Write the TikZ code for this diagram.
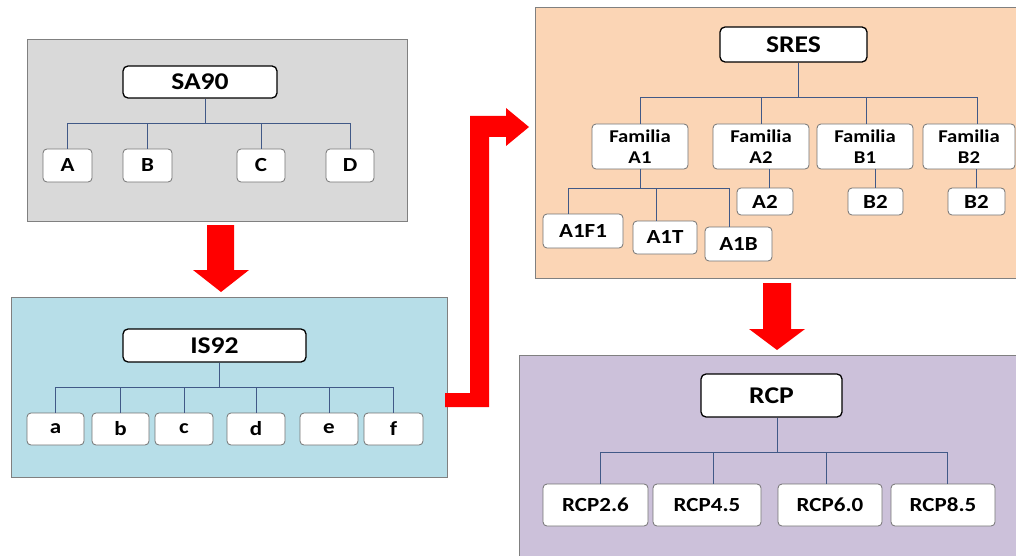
\documentclass[tikz,border=0pt]{standalone}
\usepackage{fontspec}
\setmainfont{Carlito}[FakeStretch=1.15]
\begin{document}
\begin{tikzpicture}[x=1pt,y=-1pt,
  panel/.style={draw=black!50,line width=1pt},
  head/.style={draw=black,line width=1.3pt,rounded corners=5pt,fill=white,inner sep=0pt,font=\bfseries\fontsize{24}{26}\selectfont},
  leaf/.style={draw=black!55,line width=0.8pt,rounded corners=4pt,fill=white,inner sep=0pt,font=\bfseries\fontsize{20}{22}\selectfont},
  fam/.style={leaf,align=center,font=\bfseries\fontsize{18}{21}\selectfont},
  link/.style={draw={rgb,255:red,65;green,89;blue,135},line width=0.8pt},
  bigarrow/.style={fill=red,draw=none}]
\useasboundingbox (0,0) rectangle (1016,556);
% panels
\fill[white] (0,0) rectangle (1016,556);
\draw[panel,fill={rgb,255:red,217;green,217;blue,217}] (27,40) rectangle (407,221);
\draw[panel,fill={rgb,255:red,183;green,222;blue,232}] (11,297) rectangle (447,477);
\draw[panel,fill={rgb,255:red,251;green,213;blue,181}] (535,8) rectangle (1022,278);
\draw[panel,fill={rgb,255:red,204;green,193;blue,218}] (519,355) rectangle (1022,562);
% red arrows
\fill[bigarrow] (207,225) -- (234,225) -- (234,270) -- (249,270) -- (221,292) -- (193,270) -- (207,270) -- cycle;
\fill[bigarrow] (445,393) -- (470,393) -- (470,116) -- (506,116) -- (506,108) -- (529,127) -- (506,146) -- (506,137) -- (489,137) -- (489,407) -- (445,407) -- cycle;
\fill[bigarrow] (763,283) -- (791,283) -- (791,329) -- (805,329) -- (777,350) -- (749,329) -- (763,329) -- cycle;
% SA90
\node[head,minimum width=154,minimum height=32] (sa90) at (200,82) {SA90};
\node[leaf,minimum width=49,minimum height=33] (A) at (67.5,165.5) {A};
\node[leaf,minimum width=49,minimum height=33] (B) at (147.5,165.5) {B};
\node[leaf,minimum width=48,minimum height=33] (C) at (261,165.5) {C};
\node[leaf,minimum width=48,minimum height=33] (D) at (350,165.5) {D};
\coordinate (h1) at (205,123);
\draw[link] (h1 |- sa90.south) -- (h1);
\foreach \n in {A,B,C,D} \draw[link] (h1) -| (\n.north);
% IS92
\node[head,minimum width=183,minimum height=33] (is92) at (214.5,345.5) {IS92};
\node[leaf,minimum width=57,minimum height=32] (a) at (55.5,429) {a};
\node[leaf,minimum width=57,minimum height=32] (b) at (120.5,429) {b};
\node[leaf,minimum width=58,minimum height=32] (c) at (184,429) {c};
\node[leaf,minimum width=58,minimum height=32] (d) at (256,429) {d};
\node[leaf,minimum width=58,minimum height=32] (e) at (329,429) {e};
\node[leaf,minimum width=59,minimum height=32] (f) at (393.5,429) {f};
\coordinate (h2) at (219,387);
\draw[link] (h2 |- is92.south) -- (h2);
\foreach \n in {a,b,c,d,e,f} \draw[link] (h2) -| (\n.north);
% SRES
\node[head,minimum width=147,minimum height=35] (sres) at (793.5,44.5) {SRES};
\node[fam,minimum width=96,minimum height=45] (fa1) at (640,146.5) {Familia\\A1};
\node[fam,minimum width=96,minimum height=45] (fa2) at (761,146.5) {Familia\\A2};
\node[fam,minimum width=96,minimum height=45] (fb1) at (865,146.5) {Familia\\B1};
\node[fam,minimum width=92,minimum height=45] (fb2) at (969,146.5) {Familia\\B2};
\coordinate (h3) at (798,97);
\draw[link] (h3 |- sres.south) -- (h3);
\draw[link] (h3) -| (fa1.north);
\draw[link] (h3) -| (fa2.north);
\draw[link] (h3) -| ([xshift=1]fb1.north);
\draw[link] (h3) -| ([xshift=8]fb2.north);
\node[leaf,minimum width=80,minimum height=34] (a1f1) at (583,231) {A1F1};
\node[leaf,minimum width=64,minimum height=33] (a1t) at (665,237.5) {A1T};
\node[leaf,minimum width=67,minimum height=34] (a1b) at (738.5,244) {A1B};
\coordinate (h4) at (640,188);
\draw[link] (fa1.south) -- (h4);
\draw[link] (h4) -| ([xshift=-15]a1f1.north);
\draw[link] (h4) -| ([xshift=-9]a1t.north);
\draw[link] (h4) -| ([xshift=-9.5]a1b.north);
\node[leaf,minimum width=56,minimum height=27] (a2) at (765,201.5) {A2};
\node[leaf,minimum width=55,minimum height=27] (b2a) at (875.5,201.5) {B2};
\node[leaf,minimum width=57,minimum height=27] (b2b) at (976.5,201.5) {B2};
\draw[link] ([xshift=4]a2.north |- fa2.south) -- ([xshift=4]a2.north);
\draw[link] (b2a.north |- fb1.south) -- (b2a.north);
\draw[link] (b2b.north |- fb2.south) -- (b2b.north);
% RCP
\node[head,minimum width=141,minimum height=43] (rcp) at (771.5,395.5) {RCP};
\node[leaf,minimum width=105,minimum height=42] (r26) at (595.5,505) {RCP2.6};
\node[leaf,minimum width=108,minimum height=42] (r45) at (707,505) {RCP4.5};
\node[leaf,minimum width=104,minimum height=42] (r60) at (830,505) {RCP6.0};
\node[leaf,minimum width=104,minimum height=42] (r85) at (943,505) {RCP8.5};
\coordinate (h5) at (777,452);
\draw[link] (h5 |- rcp.south) -- (h5);
\draw[link] (h5) -| ([xshift=4.5]r26.north);
\draw[link] (h5) -| ([xshift=6]r45.north);
\draw[link] (h5) -| ([xshift=-4]r60.north);
\draw[link] (h5) -| ([xshift=4]r85.north);
\end{tikzpicture}
\end{document}
